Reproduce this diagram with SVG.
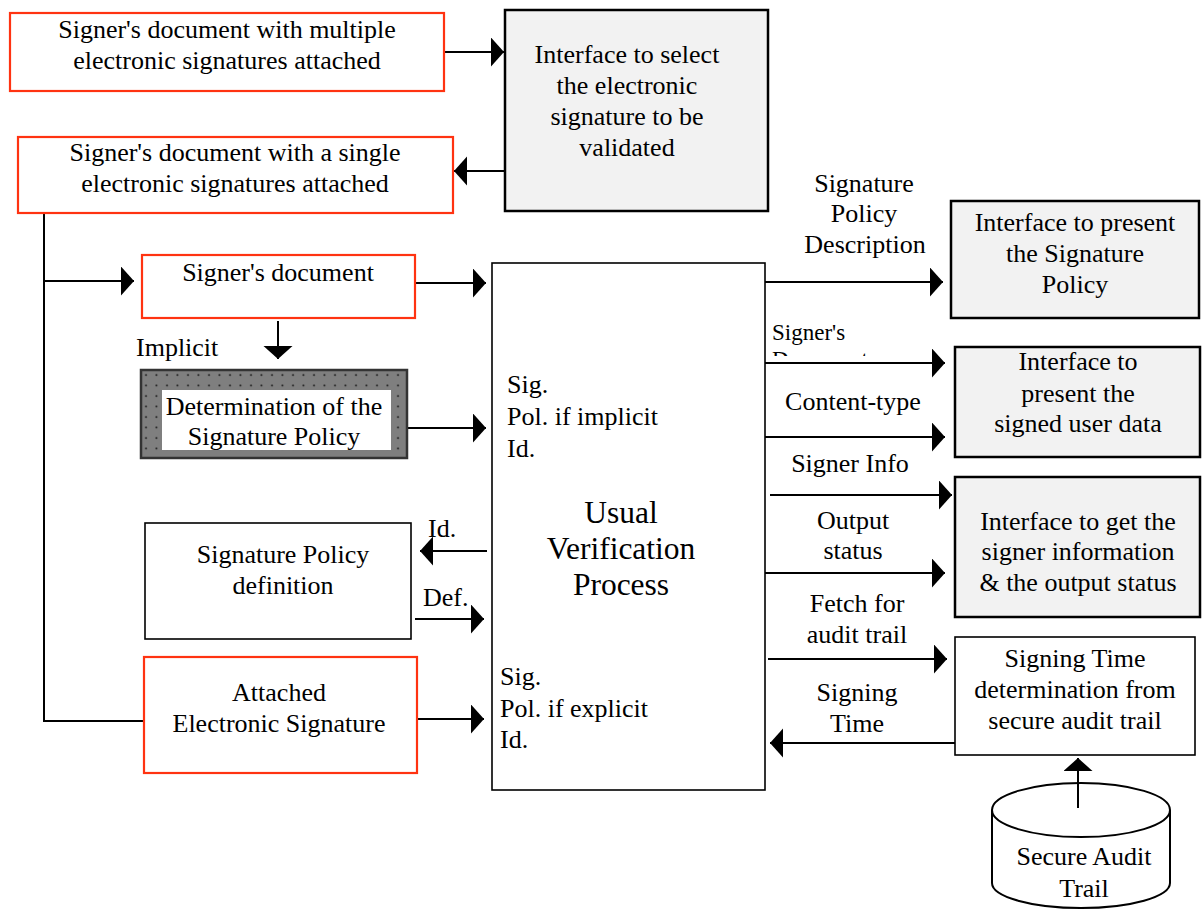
<svg xmlns="http://www.w3.org/2000/svg" width="1202" height="911" viewBox="0 0 1202 911">
<style>
text{font-family:"Liberation Serif","Times New Roman",serif;font-size:26px;fill:#000}
.c{text-anchor:middle}
.sm{font-size:23px}
.big{font-size:31.5px}
.red{fill:#fff;stroke:#ff3311;stroke-width:2.2}
.gray{fill:#f2f2f2;stroke:#000;stroke-width:2.5}
.plain{fill:#fff;stroke:#000;stroke-width:1.6}
.ln{fill:none;stroke:#000;stroke-width:2}
.arr{fill:none;stroke:#000;stroke-width:2;marker-end:url(#ah)}
</style>
<defs>
<marker id="ah" markerUnits="userSpaceOnUse" markerWidth="14" markerHeight="30" refX="13" refY="14.5" orient="auto" viewBox="0 0 14 30">
<path d="M0,0 L13,14.5 L0,29 Z" fill="#000"/>
</marker>
<pattern id="dots" width="10.5" height="10.5" patternUnits="userSpaceOnUse" x="141" y="370">
<rect width="10.5" height="10.5" fill="#7f7f7f"/>
<circle cx="5" cy="5" r="1" fill="#1a1a1a"/>
</pattern>
<clipPath id="clipDoc"><rect x="760" y="320" width="200" height="36"/></clipPath>
</defs>
<rect width="1202" height="911" fill="#fff"/>

<g id="connectors">
<line class="arr" x1="444" y1="52" x2="504" y2="52"/>
<line class="arr" x1="505" y1="171" x2="454" y2="171"/>
<polyline class="ln" points="44,213 44,721 144,721"/>
<line class="arr" x1="44" y1="281" x2="134" y2="281"/>
<line class="arr" x1="415" y1="283" x2="486" y2="283"/>
<line class="arr" x1="278" y1="321" x2="278" y2="359"/>
<line class="arr" x1="407" y1="428" x2="486" y2="428"/>
<line class="arr" x1="487" y1="551" x2="420" y2="551"/>
<line class="arr" x1="415" y1="619" x2="484" y2="619"/>
<line class="arr" x1="415" y1="719" x2="484" y2="719"/>
<line class="arr" x1="765" y1="282" x2="943" y2="282"/>
<line class="arr" x1="765" y1="363" x2="945" y2="363"/>
<line class="arr" x1="765" y1="437" x2="945" y2="437"/>
<line class="arr" x1="770" y1="495" x2="952" y2="495"/>
<line class="arr" x1="765" y1="573" x2="945" y2="573"/>
<line class="arr" x1="768" y1="659" x2="947" y2="659"/>
<line class="arr" x1="955" y1="743" x2="770" y2="743"/>
<line class="arr" x1="1078" y1="808" x2="1078" y2="758"/>
<text x="136" y="356">Implicit</text>
<text x="864" y="192" class="c">Signature</text>
<text x="864" y="222" class="c">Policy</text>
<text x="865" y="253" class="c">Description</text>
<text x="772" y="340" class="sm">Signer's</text>
<text x="772" y="367" class="sm" clip-path="url(#clipDoc)">Document</text>
<text x="853" y="410" class="c">Content-type</text>
<text x="850" y="472" class="c">Signer Info</text>
<text x="853" y="529" class="c">Output</text>
<text x="853" y="559" class="c">status</text>
<text x="857" y="612" class="c">Fetch for</text>
<text x="857" y="643" class="c">audit trail</text>
<text x="857" y="701" class="c">Signing</text>
<text x="857" y="732" class="c">Time</text>
<text x="428" y="537">Id.</text>
<text x="423" y="606">Def.</text>
</g>

<g id="multi">
<rect class="red" x="10" y="13" width="434" height="78"/>
<text x="227" y="38" class="c">Signer's document with multiple</text>
<text x="227" y="69" class="c">electronic signatures attached</text>
</g>
<g id="single">
<rect class="red" x="18" y="137" width="435" height="76"/>
<text x="235" y="161" class="c">Signer's document with a single</text>
<text x="235" y="192" class="c">electronic signatures attached</text>
</g>
<g id="select">
<rect class="gray" x="505" y="10" width="263" height="201"/>
<text x="627" y="63" class="c">Interface to select</text>
<text x="627" y="94" class="c">the electronic</text>
<text x="627" y="125" class="c">signature to be</text>
<text x="627" y="156" class="c">validated</text>
</g>
<g id="signerdoc">
<rect class="red" x="142" y="255" width="273" height="63"/>
<text x="278" y="281" class="c">Signer's document</text>
</g>
<g id="determination">
<rect x="141" y="370" width="266" height="88" fill="url(#dots)" stroke="#333" stroke-width="2.5"/>
<rect x="162" y="390" width="229" height="60" fill="#fff"/>
<text x="274" y="415" class="c">Determination of the</text>
<text x="274" y="445" class="c">Signature Policy</text>
</g>
<g id="spdef">
<rect class="plain" x="145" y="523" width="266" height="116"/>
<text x="283" y="563" class="c">Signature Policy</text>
<text x="283" y="594" class="c">definition</text>
</g>
<g id="attached">
<rect class="red" x="144" y="657" width="273" height="116"/>
<text x="279" y="701" class="c">Attached</text>
<text x="279" y="732" class="c">Electronic Signature</text>
</g>
<g id="uvp">
<rect class="plain" x="492" y="263" width="273" height="527"/>
<text x="507" y="393">Sig.</text>
<text x="507" y="425">Pol. if implicit</text>
<text x="507" y="457">Id.</text>
<text x="621" y="523" class="c big">Usual</text>
<text x="621" y="559" class="c big">Verification</text>
<text x="621" y="595" class="c big">Process</text>
<text x="500" y="685">Sig.</text>
<text x="500" y="717">Pol. if explicit</text>
<text x="500" y="748">Id.</text>
</g>
<g id="presentpolicy">
<rect class="gray" x="951" y="201" width="248" height="117"/>
<text x="1075" y="231" class="c">Interface to present</text>
<text x="1075" y="262" class="c">the Signature</text>
<text x="1075" y="293" class="c">Policy</text>
</g>
<g id="presentdata">
<rect class="gray" x="955" y="347" width="245" height="110"/>
<text x="1078" y="370" class="c">Interface to</text>
<text x="1078" y="402" class="c">present the</text>
<text x="1078" y="432" class="c">signed user data</text>
</g>
<g id="signerinfo">
<rect class="gray" x="955" y="477" width="245" height="140"/>
<text x="1078" y="530" class="c">Interface to get the</text>
<text x="1078" y="560" class="c">signer information</text>
<text x="1078" y="591" class="c">&amp; the output status</text>
</g>
<g id="signingtime">
<rect class="plain" x="955" y="637" width="240" height="118" stroke-width="2"/>
<text x="1075" y="667" class="c">Signing Time</text>
<text x="1075" y="698" class="c">determination from</text>
<text x="1075" y="729" class="c">secure audit trail</text>
</g>
<g id="audittrail">
<path d="M992,810 L992,883 A89,25 0 0 0 1170,883 L1170,810" fill="#fff" stroke="#000" stroke-width="2"/>
<ellipse cx="1081" cy="810" rx="89" ry="27" fill="#fff" stroke="#000" stroke-width="2"/>
<line class="ln" x1="1078" y1="808" x2="1078" y2="772"/>
<text x="1084" y="865" class="c">Secure Audit</text>
<text x="1084" y="897" class="c">Trail</text>
</g>
</svg>
